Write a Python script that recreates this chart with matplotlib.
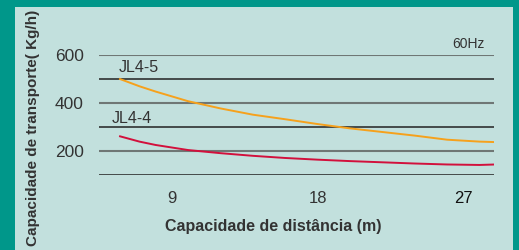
"""Transport capacity vs. conveying distance for the JL4-4 and JL4-5 loaders (60 Hz)."""

import matplotlib

matplotlib.use("Agg")
import matplotlib.pyplot as plt
from matplotlib.patches import Rectangle

plt.rcParams["font.family"] = ["Liberation Sans", "DejaVu Sans"]

# distance (m)
distance = [5.8, 7, 8, 10, 12, 14, 16, 18, 20, 22, 24, 26, 28, 29]
# capacity (kg/h)
jl4_5 = [500, 470, 448, 408, 378, 352, 333, 313, 295, 280, 265, 248, 240, 238]
jl4_4 = [262, 240, 226, 205, 192, 181, 172, 165, 159, 154, 149, 145, 143, 145]

x_ticks = [9, 18, 27]
y_ticks = [200, 400, 600]
grid_gray = [200, 400, 600]
grid_black = [100, 300, 500]

TEAL = "#00978a"
PANEL = "#c2e0dd"
ORANGE = "#f6a11c"
RED = "#d2103c"
TEXT = "#333333"

W, H = 519, 250


def main() -> None:
    fig = plt.figure(figsize=(W / 100, H / 100), dpi=100, facecolor=TEAL)
    fig.patches.append(
        Rectangle((15 / W, 0), (513 - 15) / W, (H - 7) / H,
                  transform=fig.transFigure, facecolor=PANEL, edgecolor="none", zorder=-10)
    )

    ax = fig.add_axes([99 / W, (H - 175.3) / H, 395 / W, (175.3 - 55) / H])
    ax.set_facecolor("none")
    for spine in ax.spines.values():
        spine.set_visible(False)

    for y in grid_gray:
        ax.axhline(y, color="#6f7775", lw=1.5, zorder=1)
    for y in grid_black:
        ax.axhline(y, color="#222222", lw=1.1, zorder=1)

    ax.plot(distance, jl4_5, color=ORANGE, lw=1.4, zorder=3)
    ax.plot(distance, jl4_4, color=RED, lw=1.4, zorder=3)

    ax.set_xlim(4.5, 28.9)
    ax.set_ylim(100, 600)
    ax.set_xticks(x_ticks)
    ax.set_yticks(y_ticks)
    ax.tick_params(axis="both", length=0, labelsize=12.5, labelcolor=TEXT)
    ax.tick_params(axis="y", pad=11)
    ax.tick_params(axis="x", pad=11)
    ax.set_xticklabels([str(t) for t in x_ticks], fontsize=12)
    ax.get_xticklabels()[-1].set_color("#111111")

    ax.text(5.7, 548, "JL4-5", fontsize=11.5, color=TEXT, ha="left", va="center")
    ax.text(5.3, 338, "JL4-4", fontsize=11.5, color=TEXT, ha="left", va="center")
    ax.text(28.3, 645, "60Hz", fontsize=10, color=TEXT, ha="right", va="center",
            clip_on=False)

    fig.text(273.5 / W, (H - 226) / H, "Capacidade de distância (m)",
             fontsize=11.5, fontweight="bold", color=TEXT, ha="center", va="center")
    fig.text(33 / W, (H - 128) / H, "Capacidade de transporte( Kg/h)",
             fontsize=11, fontweight="bold", color=TEXT, ha="center", va="center",
             rotation=90)

    fig.savefig("out.png", dpi=100, facecolor=fig.get_facecolor())
    plt.close(fig)


if __name__ == "__main__":
    main()
